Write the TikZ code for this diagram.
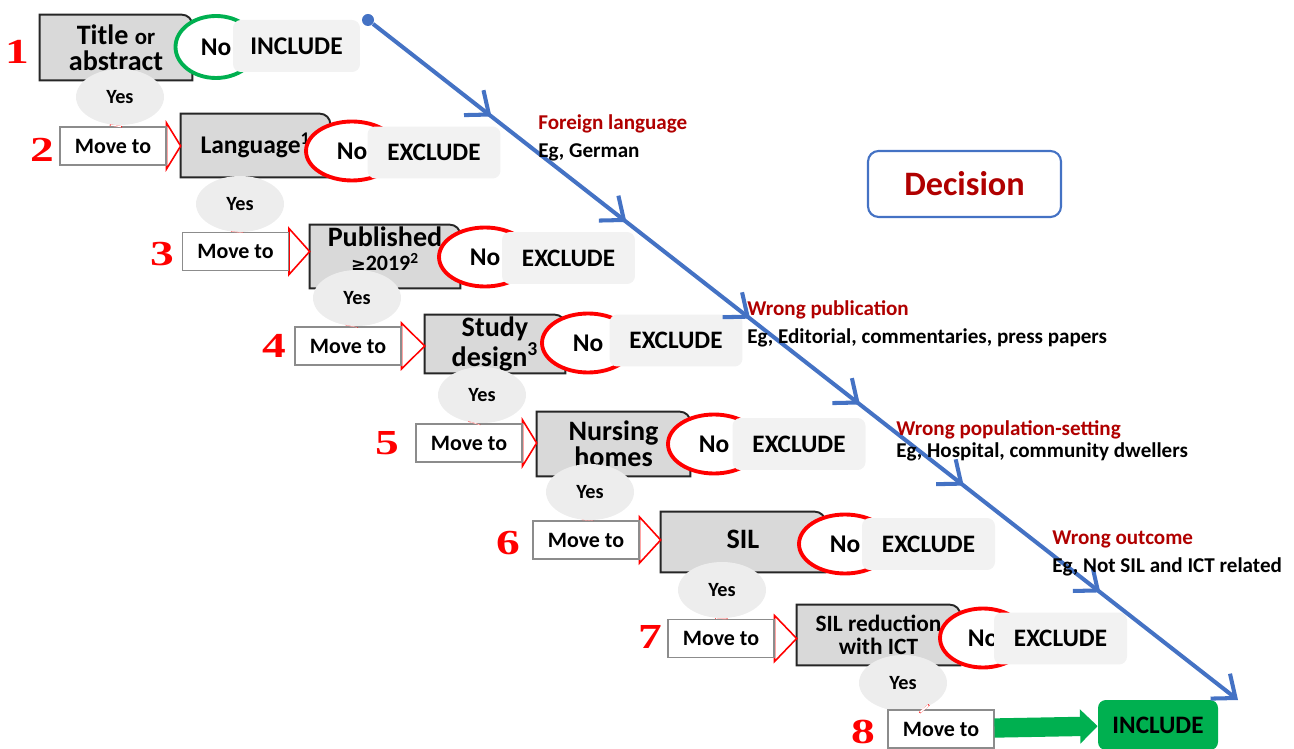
\documentclass[tikz,border=0pt]{standalone}
\usepackage{fontspec}
\setmainfont{Carlito}
\newfontfamily\numfont[FakeStretch=1.35]{Liberation Serif}
\newfontfamily\symfont{DejaVu Sans}
\usetikzlibrary{arrows.meta,decorations.markings,shapes.geometric}
\pgfdeclarelayer{background}
\pgfsetlayers{background,main}
\definecolor{critgrey}{HTML}{D9D9D9}
\definecolor{tilegrey}{HTML}{F2F2F2}
\definecolor{yesgrey}{HTML}{EDEDED}
\definecolor{flowblue}{HTML}{4472C4}
\definecolor{incgreen}{HTML}{00B050}
\definecolor{wrongred}{HTML}{B00000}
\newcommand{\critbox}[4][]{\node[crit, #1] (#2) at #3 {#4};\begin{pgfonlayer}{background}\filldraw[critshape] (#2.south west) |- ([xshift=-6pt]#2.north east) arc[start angle=90, end angle=0, radius=6pt] -- (#2.south east) -- cycle;\end{pgfonlayer}}
\tikzset{
  crit/.style={align=center, inner sep=0pt, minimum width=3cm, minimum height=1.26cm, font=\fontsize{16}{15}\selectfont\bfseries},
  critshape/.style={fill=critgrey, draw=black!85, line width=1.1pt},
  moveto/.style={draw=black!45, fill=white, line width=0.6pt, minimum width=2.12cm, minimum height=0.76cm, inner sep=0pt, font=\fontsize{12.5}{13}\selectfont\bfseries},
  movetip/.style={draw=red, fill=white, line width=0.9pt},
  ring/.style={ellipse, draw=red, fill=white, line width=2.2pt, minimum width=1.84cm, minimum height=1.18cm, inner sep=0pt, font=\fontsize{14.5}{15}\selectfont\bfseries},
  tile/.style={fill=tilegrey, rounded corners=4.5pt, minimum width=2.66cm, minimum height=1.04cm, inner sep=0pt, font=\fontsize{14.3}{15}\selectfont\bfseries},
  yes/.style={ellipse, fill=yesgrey, minimum width=1.76cm, minimum height=1.12cm, inner sep=0pt, font=\fontsize{11.5}{12}\selectfont\bfseries},
  yeslink/.style={draw=red, line width=0.5pt, double=white, double distance=6pt},
  golink/.style={draw=incgreen, line width=11pt, -{Triangle[length=10pt, width=19pt]}},
  stepno/.style={text=red, inner sep=0pt, font=\numfont\bfseries\fontsize{20}{20}\selectfont},
  reason/.style={anchor=west, align=left, inner sep=0pt, font=\fontsize{12}{15.8}\selectfont\bfseries},
  decision/.style={draw=flowblue, line width=1.2pt, rounded corners=6pt, minimum width=3.86cm, minimum height=1.32cm, text=wrongred, font=\fontsize{19.5}{20}\selectfont\bfseries},
  flow/.style={draw=flowblue, line width=2.3pt, -{Straight Barb[length=11pt, width=18pt]}, postaction={decorate}, decoration={markings,
    mark=at position 0.137 with {\arrow{Straight Barb[length=11pt, width=18pt]}},
    mark=at position 0.293 with {\arrow{Straight Barb[length=11pt, width=18pt]}},
    mark=at position 0.436 with {\arrow{Straight Barb[length=11pt, width=18pt]}},
    mark=at position 0.563 with {\arrow{Straight Barb[length=11pt, width=18pt]}},
    mark=at position 0.683 with {\arrow{Straight Barb[length=11pt, width=18pt]}},
    mark=at position 0.841 with {\arrow{Straight Barb[length=11pt, width=18pt]}}}},
}
\begin{document}
\begin{tikzpicture}[x=0.02cm, y=-0.02cm]
\useasboundingbox (0,0) rectangle (1294,749);

% 1
\node[stepno] (s1) at (17,52) {1};
\critbox[minimum width=3.04cm, minimum height=1.3cm]{c1}{(116,47.5)}{Title {\fontsize{13}{12}\selectfont or}\\abstract};
\node[ring, draw=incgreen, minimum width=1.62cm, minimum height=1.24cm] (r1) at (216,47) {No};
\node[tile, font=\fontsize{14.5}{15}\selectfont\bfseries, minimum width=2.54cm] (t1) at (296.5,46) {INCLUDE};
\node[yes] (y1) at (120,97) {Yes};

% 2
\node[stepno] (s2) at (42,150) {2};
\node[moveto] (m2) at (113,146) {Move to};
\critbox[minimum width=2.98cm, font=\fontsize{14.5}{14}\selectfont\bfseries]{c2}{(255.5,145.5)}{Language\textsuperscript{1}};
\node[ring] (r2) at (352,151) {No};
\node[tile] (t2) at (434,152.5) {EXCLUDE};
\node[yes] (y2) at (240,204) {Yes};

% 3
\node[stepno] (s3) at (162,254) {3};
\node[moveto] (m3) at (235.5,251.5) {Move to};
\critbox[font=\fontsize{16}{14}\selectfont\bfseries, text depth=9pt]{c3}{(385,256.5)}{Published\\{\fontsize{12.5}{12}\selectfont{\symfont\fontsize{10}{12}\selectfont ≥}2019\textsuperscript{2}}};
\node[ring] (r3) at (485,257) {No};
\node[tile] (t3) at (568.5,258) {EXCLUDE};
\node[yes] (y3) at (357,298) {Yes};

% 4
\node[stepno] (s4) at (274,346) {4};
\node[moveto] (m4) at (348,346) {Move to};
\critbox[minimum width=2.8cm, minimum height=1.16cm]{c4}{(495,344)}{Study\\design\textsuperscript{3}};
\node[ring] (r4) at (588,343) {No};
\node[tile] (t4) at (676,340.5) {EXCLUDE};
\node[yes] (y4) at (482,395) {Yes};

% 5
\node[stepno] (s5) at (387,443) {5};
\node[moveto] (m5) at (469,443) {Move to};
\critbox[minimum width=3.06cm, minimum height=1.28cm]{c5}{(613.5,444)}{Nursing\\homes};
\node[ring] (r5) at (714,444) {No};
\node[tile] (t5) at (799,444) {EXCLUDE};
\node[yes] (y5) at (590,492) {Yes};

% 6
\node[stepno] (s6) at (508,543) {6};
\node[moveto] (m6) at (586,540) {Move to};
\critbox[minimum width=3.28cm, minimum height=1.2cm]{c6}{(743,542)}{\raisebox{3pt}{SIL}};
\node[ring] (r6) at (845,544) {No};
\node[tile] (t6) at (928.5,544) {EXCLUDE};
\node[yes] (y6) at (722,590) {Yes};

% 7
\node[stepno] (s7) at (650,637) {7};
\node[moveto] (m7) at (721,638.5) {Move to};
\critbox[minimum width=3.26cm, minimum height=1.2cm, font=\fontsize{13.3}{13.5}\selectfont\bfseries]{c7}{(878.5,635)}{SIL reduction\\with ICT};
\node[ring, minimum width=1.72cm] (r7) at (983,638) {No};
\node[tile] (t7) at (1060.5,638.5) {EXCLUDE};
\node[yes] (y7) at (903,683) {Yes};

% 8
\node[stepno] (s8) at (863,732) {8};
\node[moveto] (m8) at (941,729) {Move to};
\node[tile, fill=incgreen, minimum width=2.4cm, minimum height=1cm] (inc8) at (1158,725) {INCLUDE};
\draw[golink] (m8) -- (inc8);

% move-to tips
\begin{pgfonlayer}{background}
\draw[movetip] ([yshift=2pt]m2.north east) -- (m2.east -| c2.west) -- ([yshift=-2pt]m2.south east) -- cycle;
\draw[movetip] ([yshift=2pt]m3.north east) -- (m3.east -| c3.west) -- ([yshift=-2pt]m3.south east) -- cycle;
\draw[movetip] ([yshift=2pt]m4.north east) -- (m4.east -| c4.west) -- ([yshift=-2pt]m4.south east) -- cycle;
\draw[movetip] ([yshift=2pt]m5.north east) -- (m5.east -| c5.west) -- ([yshift=-2pt]m5.south east) -- cycle;
\draw[movetip] ([yshift=2pt]m6.north east) -- (m6.east -| c6.west) -- ([yshift=-2pt]m6.south east) -- cycle;
\draw[movetip] ([yshift=2pt]m7.north east) -- (m7.east -| c7.west) -- ([yshift=-2pt]m7.south east) -- cycle;
\end{pgfonlayer}
\draw[yeslink] (y1) -- (m2);
\draw[yeslink] (y2) -- (m3);
\draw[yeslink] (y3) -- (m4);
\draw[yeslink] (y4) -- (m5);
\draw[yeslink] (y5) -- (m6);
\draw[yeslink] (y6) -- (m7);
\draw[yeslink] (y7) -- (m8);

% decision line
\node[circle, fill=flowblue, minimum size=0.24cm, inner sep=0pt] (start) at (368,20) {};
\coordinate (stop) at (1238,700);
\draw[flow] (start) -- (stop);
\node[decision] (dec) at (964.5,184) {Decision};

\node[reason] (why2) at (538,138) {\textcolor{wrongred}{Foreign language}\\Eg, German};
\node[reason] (why4) at (747,324) {\textcolor{wrongred}{Wrong publication}\\Eg, Editorial, commentaries, press papers};
\node[reason] (why5) at (896,441) {\textcolor{wrongred}{Wrong population-setting}\\[-3.3pt]Eg, Hospital, community dwellers};
\node[reason] (why6) at (1052,553.5) {\textcolor{wrongred}{Wrong outcome}\\Eg, Not SIL and ICT related};
\end{tikzpicture}
\end{document}
